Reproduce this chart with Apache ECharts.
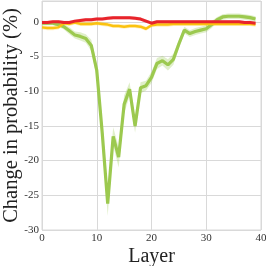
<!DOCTYPE html>
<html><head><meta charset="utf-8">
<script src="https://cdn.jsdelivr.net/npm/echarts@6/dist/echarts.min.js"></script>
<style>html,body{margin:0;padding:0;background:#fff}#c{width:266px;height:266px}</style>
</head><body><div id="c"></div>
<script>
const layers = Array.from({length: 40}, (_, i) => i);
const greenVals = [-0.2,-0.2,-0.2,-0.4,-0.7,-1.3,-1.9,-2.1,-2.4,-3.4,-7.0,-16.0,-26.2,-16.5,-19.5,-11.9,-9.7,-15.0,-9.5,-9.2,-8.0,-6.0,-5.6,-6.2,-5.4,-3.2,-1.2,-1.7,-1.4,-1.2,-1.0,-0.4,0.3,0.7,0.8,0.8,0.8,0.7,0.6,0.4];
const greenErr  = [0.3,0.3,0.3,0.3,0.4,0.5,0.5,0.6,0.6,0.8,1.0,1.5,1.8,1.3,1.5,1.3,1.0,1.0,0.8,0.7,0.8,0.8,0.7,0.8,0.8,0.6,0.5,0.5,0.5,0.5,0.5,0.5,0.4,0.4,0.4,0.4,0.4,0.4,0.4,0.4];
const yellowVals = [-0.8,-0.9,-0.9,-0.8,-0.2,-0.3,-0.1,-0.3,-0.3,-0.3,-0.2,-0.3,-0.4,-0.6,-0.6,-0.7,-0.6,-0.6,-0.7,-1.0,-0.5,-0.4,-0.4,-0.4,-0.3,-0.3,-0.3,-0.3,-0.3,-0.3,-0.3,-0.3,-0.3,-0.3,-0.3,-0.3,-0.3,-0.3,-0.3,-0.4];
const yellowErr = Array(40).fill(0.3);
const redVals = [-0.1,-0.1,0,0,-0.1,-0.1,0.1,0.2,0.3,0.3,0.4,0.4,0.5,0.6,0.6,0.6,0.6,0.5,0.4,0.1,-0.2,0,0,0,0,0,0,0,0,0,0,0,0,0,0,0,0,-0.1,-0.1,-0.2];
const redErr = Array(40).fill(0.25);
const xTicks = [0,10,20,30,40];
const yTicks = [-30,-25,-20,-15,-10,-5,0];

function pairs(v){ return v.map((y,i)=>[layers[i], y]); }
function band(vals, err, color){
  const data = vals.map((v,i)=>[layers[i], v-err[i], v+err[i]]);
  return {
    type:'custom', silent:true, data:data,
    encode:{x:0, y:[1,2]},
    renderItem:function(params, api){
      if (params.dataIndex !== 0) return;
      const top = data.map(d=>api.coord([d[0], d[2]]));
      const bot = data.map(d=>api.coord([d[0], d[1]])).reverse();
      return {type:'polygon', shape:{points: top.concat(bot)}, style:{fill:color, stroke:null}};
    }
  };
}
const font = 'Liberation Serif';
const chart = echarts.init(document.getElementById('c'));
chart.setOption({
  animation:false,
  grid:{left:42, right:5, top:1, bottom:36, outerBoundsMode:'none', containLabel:false, show:true, borderColor:'#d9d9d9', borderWidth:1},
  xAxis:{type:'value', min:0, max:40, interval:10, name:'Layer', nameLocation:'middle', nameGap:17, nameMoveOverlap:false,
    nameTextStyle:{fontFamily:font, fontSize:20, color:'#222'},
    axisLine:{show:false}, axisTick:{show:false},
    axisLabel:{fontFamily:font, fontSize:11, color:'#333', margin:3},
    splitLine:{show:true, lineStyle:{color:'#d9d9d9', width:1}}},
  yAxis:{type:'value', min:-30, max:3, interval:5, name:'Change in probability (%)', nameLocation:'middle', nameGap:20, nameMoveOverlap:false,
    nameTextStyle:{fontFamily:font, fontSize:20.5, color:'#222'},
    axisLine:{show:false}, axisTick:{show:false},
    axisLabel:{fontFamily:font, fontSize:11, color:'#333', margin:3, showMaxLabel:false},
    splitLine:{show:true, lineStyle:{color:'#d9d9d9', width:1}}},
  series:[
    band(greenVals, greenErr, 'rgba(160,204,90,0.32)'),
    band(yellowVals, yellowErr, 'rgba(255,200,20,0.25)'),
    band(redVals, redErr, 'rgba(232,36,43,0.2)'),
    {type:'line', data:pairs(greenVals), symbol:'none', lineStyle:{color:'#9cc94f', width:3.2}},
    {type:'line', data:pairs(yellowVals), symbol:'none', lineStyle:{color:'#fbc20f', width:2.5}},
    {type:'line', data:pairs(redVals), symbol:'none', lineStyle:{color:'#e8242b', width:3}}
  ]
});
</script></body></html>
